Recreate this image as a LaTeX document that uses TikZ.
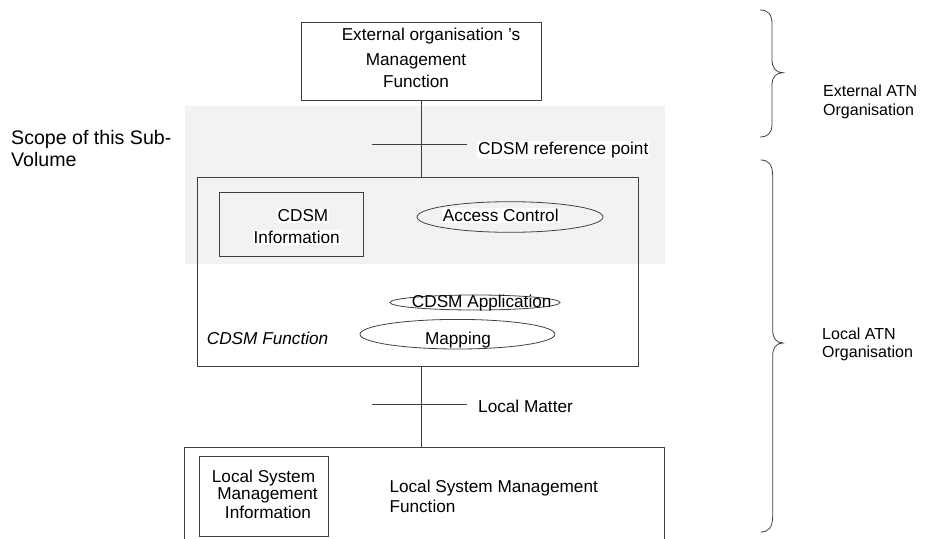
\documentclass[tikz,border=0pt]{standalone}
\usepackage{fontspec}
\setmainfont{Liberation Sans}
\usetikzlibrary{shapes.geometric}
\begin{document}
\begin{tikzpicture}[x=1pt,y=-1pt,
  ln/.style={draw=black!75, line width=0.8pt},
  box/.style={ln, rectangle, inner sep=0pt, anchor=north west},
  ell/.style={ln, ellipse, inner sep=0pt},
  lbl/.style={font=\fontsize{17.2}{20}\selectfont, inner sep=1pt},
  wlbl/.style={lbl, fill=white},
  side/.style={font=\fontsize{16}{18}\selectfont, inner sep=0pt, anchor=base west},
]
\useasboundingbox (0,0) rectangle (936,538);
\clip (0,0) rectangle (936,538);
% scope shading
\fill[black!5] (185,106) rectangle (665,264);

% external management function
\node[box, minimum width=240.3pt, minimum height=78.3pt] (ext) at (300.7,21.7) {};
\node[lbl, anchor=base] (ext1) at (431,40.7) {External organisation 's};
\node[lbl, anchor=base] (ext2) at (416,65.5) {Management};
\node[lbl, anchor=base] (ext3) at (416,87) {Function};

% CDSM function
\node[box, minimum width=440.4pt, minimum height=189pt] (cdsm) at (197.3,177) {};
\node[box, minimum width=143.7pt, minimum height=63.4pt] (info) at (219,192.3) {};
\node[wlbl, anchor=base] (info1) at (303,221.7) {CDSM};
\node[wlbl, anchor=base] (info2) at (296.7,243.5) {Information};
\node[ell, minimum width=186pt, minimum height=30.6pt] (acc) at (510,217) {};
\node[wlbl, anchor=base] (acct) at (500.8,221.7) {Access Control};
\node[ell, minimum width=170pt, minimum height=15pt] (app) at (475,302.5) {};
\node[lbl, anchor=base] (appt) at (481.7,307.7) {CDSM Application};
\node[ell, minimum width=195pt, minimum height=29.6pt] (map) at (457.5,334.2) {};
\node[lbl, anchor=base] (mapt) at (458,344.5) {Mapping};
\node[lbl, anchor=base west, font=\fontsize{17.2}{20}\selectfont\itshape] (cft) at (205.7,344) {CDSM Function};

% local system management function (open at the bottom)
\node[box, minimum width=480pt, minimum height=110pt] (lsmf) at (184,447) {};
\node[box, minimum width=128.4pt, minimum height=80pt] (lsmi) at (199.3,455.7) {};
\node[lbl, anchor=base] (lsmi1) at (263.5,482.7) {Local System};
\node[lbl, anchor=base] (lsmi2) at (267.5,499) {Management};
\node[lbl, anchor=base] (lsmi3) at (268,518) {Information};
\node[lbl, anchor=base west] (lsmf1) at (388.3,492.7) {Local System Management};
\node[lbl, anchor=base west] (lsmf2) at (388.3,512.7) {Function};

% connectors
\draw[ln] (ext.south) -- (ext.south |- cdsm.north);
\draw[ln] (cdsm.south -| ext.south) -- (lsmf.north -| ext.south);
\coordinate (r1) at (372,144);
\coordinate (r2) at (467,144);
\draw[ln] (r1) -- (r2);
\node[wlbl, anchor=base west] (refp) at (477,154) {CDSM reference point};
\coordinate (m1) at (372,404.3);
\coordinate (m2) at (467,404.3);
\draw[ln] (m1) -- (m2);
\node[lbl, anchor=base west] (lm) at (477,412.7) {Local Matter};

% scope label
\node[side, font=\fontsize{19.6}{22}\selectfont] (sc1) at (11,144.3) {Scope of this Sub-};
\node[side, font=\fontsize{19.6}{22}\selectfont] (sc2) at (11,166) {Volume};

% braces
\draw[ln] (760,10) .. controls (768,10) and (772,14) .. (772,24) -- (772,60)
  .. controls (772,68) and (776,72.7) .. (783,72.7)
  .. controls (776,72.7) and (772,77) .. (772,85) -- (772,124)
  .. controls (772,133) and (768,137) .. (760,137);
\draw[ln] (760.7,160) .. controls (768,160) and (772.7,164) .. (772.7,176) -- (772.7,330)
  .. controls (772.7,338) and (776,343) .. (783,343)
  .. controls (776,343) and (772.7,348) .. (772.7,356) -- (772.7,516)
  .. controls (772.7,528) and (768,532) .. (760.7,532);
\node[side] (ea1) at (823,96.5) {External ATN};
\node[side] (ea2) at (823,115.5) {Organisation};
\node[side] (la1) at (822,339.3) {Local ATN};
\node[side] (la2) at (822,357) {Organisation};
\end{tikzpicture}
\end{document}
